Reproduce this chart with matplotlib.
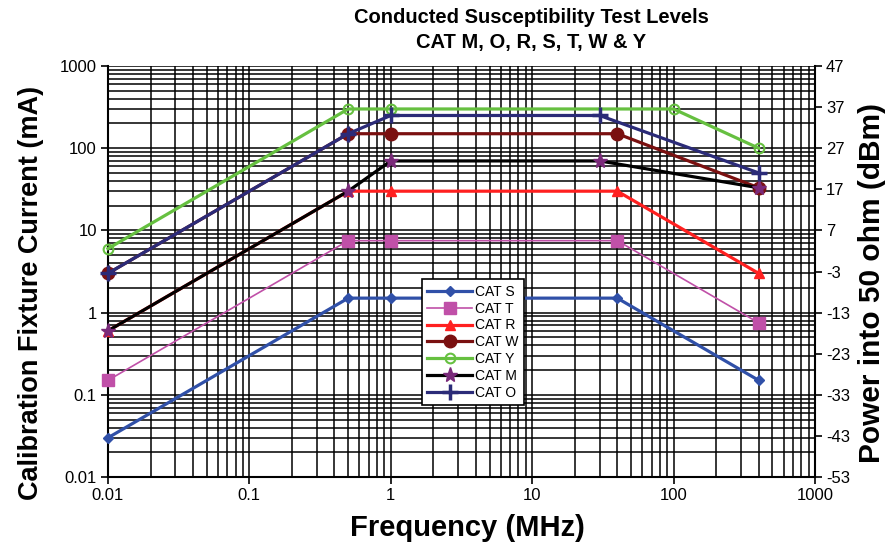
import numpy as np
import matplotlib
matplotlib.use("Agg")
import matplotlib.pyplot as plt
from matplotlib.ticker import FixedLocator, FuncFormatter, LogLocator, NullFormatter

plt.rcParams['font.family'] = ['Liberation Sans', 'DejaVu Sans']
plt.rcParams['axes.unicode_minus'] = False

# Conducted susceptibility test levels (current in mA vs frequency in MHz)
freq_s = [0.01, 0.5, 1, 40, 400]
cat_s = [0.03, 1.5, 1.5, 1.5, 0.15]

freq_t = [0.01, 0.5, 1, 40, 400]
cat_t = [0.15, 7.5, 7.5, 7.5, 0.75]

freq_r = [0.01, 0.5, 1, 40, 400]
cat_r = [0.6, 30, 30, 30, 3]

freq_w = [0.01, 0.5, 1, 40, 400]
cat_w = [3, 150, 150, 150, 33]

freq_y = [0.01, 0.5, 1, 100, 400]
cat_y = [6, 300, 300, 300, 100]

freq_m = [0.01, 0.5, 1, 30, 400]
cat_m = [0.6, 30, 70, 70, 33]

freq_o = [0.01, 0.5, 1, 30, 400]
cat_o = [3, 150, 250, 250, 50]

x_ticks = [0.01, 0.1, 1, 10, 100, 1000]
y_ticks = [0.01, 0.1, 1, 10, 100, 1000]
dbm_ticks = [-53, -43, -33, -23, -13, -3, 7, 17, 27, 37, 47]

fig = plt.figure(figsize=(8.90, 5.49), dpi=100, facecolor='white')
ax = fig.add_axes([0.1213, 0.1311, 0.7944, 0.7487])

ax.set_xscale('log')
ax.set_yscale('log')
ax.set_xlim(0.01, 1000)
ax.set_ylim(0.01, 1000)

# gridlines first so the curves sit on top
ax.xaxis.set_major_locator(FixedLocator(x_ticks))
ax.yaxis.set_major_locator(FixedLocator(y_ticks))
ax.xaxis.set_minor_locator(LogLocator(base=10, subs=np.arange(2, 10)))
ax.yaxis.set_minor_locator(LogLocator(base=10, subs=np.arange(2, 10)))
ax.xaxis.set_minor_formatter(NullFormatter())
ax.yaxis.set_minor_formatter(NullFormatter())
fmt = FuncFormatter(lambda v, p: '%g' % v)
ax.xaxis.set_major_formatter(fmt)
ax.yaxis.set_major_formatter(fmt)
ax.grid(True, which='both', color='black', lw=1.1)
ax.set_axisbelow(True)
ax.tick_params(which='minor', length=0)
ax.tick_params(which='major', length=5, width=1.2, labelsize=12, pad=3)

common = dict(clip_on=False, zorder=5)
ax.plot(freq_s, cat_s, color='#3050A8', lw=2.3, marker='D', ms=5,
        label='CAT S', **common)
ax.plot(freq_t, cat_t, color='#C050A8', lw=1.2, marker='s', ms=8,
        label='CAT T', **common)
ax.plot(freq_r, cat_r, color='#FF2020', lw=2.3, marker='^', ms=7,
        label='CAT R', **common)
ax.plot(freq_w, cat_w, color='#7A1010', lw=2.3, marker='o', ms=9,
        label='CAT W', **common)
ax.plot(freq_y, cat_y, color='#66C040', lw=2.3, marker='o', ms=7,
        mfc='none', mew=1.5, label='CAT Y', **common)
ax.plot(freq_m, cat_m, color='black', lw=2.3, marker='*', ms=11,
        mfc='#7A2A7A', mec='#7A2A7A', label='CAT M', **common)
ax.plot(freq_o, cat_o, color='#2B2B78', lw=2.3, marker='+', ms=12,
        mew=2.5, label='CAT O', **common)

for s in ['top', 'right']:
    ax.spines[s].set_visible(False)
ax.spines['left'].set_linewidth(1.5)
ax.spines['bottom'].set_linewidth(1.5)

# right axis: power into 50 ohm, dBm = 20*log10(mA) - 13
ax2 = ax.twinx()
ax2.set_ylim(-53, 47)
ax2.set_yticks(dbm_ticks)
ax2.tick_params(axis='y', length=5, width=1.2, labelsize=12, pad=3)
for s in ['top', 'left', 'bottom']:
    ax2.spines[s].set_visible(False)
ax2.spines['right'].set_linewidth(1.5)

# axis titles
fig.text(467 / 890, 1 - 528 / 549, 'Frequency (MHz)', ha='center',
         va='center', fontsize=21, fontweight='bold')
fig.text(31 / 890, 1 - 293 / 549, 'Calibration Fixture Current (mA)',
         ha='center', va='center', rotation=90, fontsize=19.5,
         fontweight='bold')
fig.text(872 / 890, 1 - 283 / 549, 'Power into 50 ohm (dBm)',
         ha='center', va='center', rotation=90, fontsize=21.5,
         fontweight='bold')

leg = ax.legend(loc='lower left', bbox_to_anchor=(0.444, 0.175),
                fontsize=10, frameon=True, fancybox=False, edgecolor='black',
                framealpha=1, handlelength=3.2, handletextpad=0.2,
                labelspacing=0.2, borderpad=0.4, borderaxespad=0)
leg.get_frame().set_linewidth(1.2)
leg.set_zorder(10)

fig.text(0.597, 0.968, 'Conducted Susceptibility Test Levels', ha='center',
         va='center', fontsize=14.5, fontweight='bold')
fig.text(0.597, 0.922, 'CAT M, O, R, S, T, W & Y', ha='center',
         va='center', fontsize=14.5, fontweight='bold')

fig.savefig('out.png', dpi=100, facecolor='white')
